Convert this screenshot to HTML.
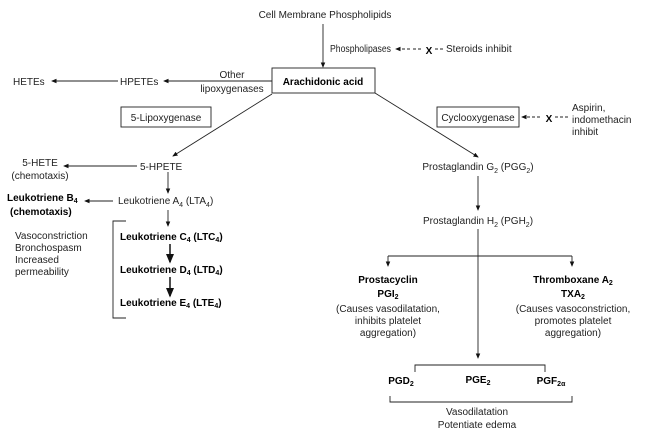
<!DOCTYPE html>
<html><head><style>
body{margin:0;background:#fff}
svg{display:block}
text{font-family:"Liberation Sans",sans-serif;font-size:10px;fill:#222}
.b{font-weight:bold;fill:#000}
</style></head><body>
<svg width="645" height="436" viewBox="0 0 645 436">
<defs><marker id="a" markerWidth="6" markerHeight="6" refX="5" refY="3" orient="auto"><path d="M0,0.5L6,3L0,5.5z" fill="#111"/></marker></defs>
<g stroke="#222" stroke-width="0.9" fill="none">
<line x1="323" y1="24" x2="323" y2="67" marker-end="url(#a)"/>
<line x1="410" y1="49" x2="396" y2="49" stroke-dasharray="3,2" marker-end="url(#a)"/>
<line x1="413" y1="49" x2="423" y2="49" stroke-dasharray="3,2"/>
<line x1="435" y1="49" x2="444" y2="49" stroke-dasharray="3,2"/>
<rect x="272" y="68" width="103" height="25"/>
<line x1="272" y1="81" x2="164" y2="81" marker-end="url(#a)"/>
<line x1="118" y1="81" x2="52" y2="81" marker-end="url(#a)"/>
<rect x="121" y="107" width="90" height="20"/>
<line x1="272" y1="94" x2="173" y2="156" marker-end="url(#a)"/>
<line x1="137" y1="166" x2="64" y2="166" marker-end="url(#a)"/>
<line x1="168" y1="172" x2="168" y2="193" marker-end="url(#a)"/>
<line x1="113" y1="201" x2="85" y2="201" marker-end="url(#a)"/>
<line x1="168" y1="210" x2="168" y2="226" marker-end="url(#a)"/>
<polyline points="126,221 113,221 113,318 126,318"/>
<line x1="170" y1="244" x2="170" y2="262" stroke-width="1.6" marker-end="url(#a)"/>
<line x1="170" y1="277" x2="170" y2="296" stroke-width="1.6" marker-end="url(#a)"/>
<line x1="375" y1="93" x2="478" y2="157" marker-end="url(#a)"/>
<rect x="437" y="107" width="82" height="20"/>
<line x1="540" y1="117" x2="522" y2="117" stroke-dasharray="3,2" marker-end="url(#a)"/>
<line x1="555" y1="117" x2="569" y2="117" stroke-dasharray="3,2"/>
<line x1="478" y1="176" x2="478" y2="210" marker-end="url(#a)"/>
<line x1="478" y1="229" x2="478" y2="358" marker-end="url(#a)"/>
<line x1="388" y1="256" x2="572" y2="256"/>
<line x1="388" y1="256" x2="388" y2="266" marker-end="url(#a)"/>
<line x1="572" y1="256" x2="572" y2="266" marker-end="url(#a)"/>
<polyline points="415,372 415,365 545,365 545,372"/>
<polyline points="390,396 390,402 572,402 572,396"/>
</g>
<text x="325" y="18" text-anchor="middle" font-size="11">Cell Membrane Phospholipids</text>
<text x="330" y="52" textLength="61" lengthAdjust="spacingAndGlyphs">Phospholipases</text>
<text x="429" y="54" text-anchor="middle" class="b" font-size="13">X</text>
<text x="446" y="52">Steroids inhibit</text>
<text x="323" y="85" text-anchor="middle" class="b" font-size="11">Arachidonic acid</text>
<text x="232" y="78" text-anchor="middle">Other</text>
<text x="232" y="92" text-anchor="middle">lipoxygenases</text>
<text x="120" y="85">HPETEs</text>
<text x="13" y="85">HETEs</text>
<text x="166" y="121" text-anchor="middle">5-Lipoxygenase</text>
<text x="140" y="170">5-HPETE</text>
<text x="40" y="166" text-anchor="middle">5-HETE</text>
<text x="40" y="179" text-anchor="middle">(chemotaxis)</text>
<text x="118" y="204">Leukotriene A<tspan font-size="7" dy="3">4</tspan><tspan dy="-3"> (LTA</tspan><tspan font-size="7" dy="3">4</tspan><tspan dy="-3">)</tspan></text>
<text x="7" y="201" class="b">Leukotriene B<tspan font-size="7" dy="2">4</tspan></text>
<text x="10" y="215" class="b">(chemotaxis)</text>
<text x="15" y="239">Vasoconstriction</text>
<text x="15" y="251">Bronchospasm</text>
<text x="15" y="263">Increased</text>
<text x="15" y="275">permeability</text>
<text x="120" y="240" class="b">Leukotriene C<tspan font-size="7" dy="2">4</tspan><tspan dy="-2"> (LTC</tspan><tspan font-size="7" dy="2">4</tspan><tspan dy="-2">)</tspan></text>
<text x="120" y="273" class="b">Leukotriene D<tspan font-size="7" dy="2">4</tspan><tspan dy="-2"> (LTD</tspan><tspan font-size="7" dy="2">4</tspan><tspan dy="-2">)</tspan></text>
<text x="120" y="306" class="b">Leukotriene E<tspan font-size="7" dy="2">4</tspan><tspan dy="-2"> (LTE</tspan><tspan font-size="7" dy="2">4</tspan><tspan dy="-2">)</tspan></text>
<text x="478" y="121" text-anchor="middle">Cyclooxygenase</text>
<text x="549" y="122" text-anchor="middle" class="b" font-size="13">X</text>
<text x="572" y="111">Aspirin,</text>
<text x="572" y="123">indomethacin</text>
<text x="572" y="135">inhibit</text>
<text x="478" y="170" text-anchor="middle">Prostaglandin G<tspan font-size="7" dy="3">2</tspan><tspan dy="-3"> (PGG</tspan><tspan font-size="7" dy="3">2</tspan><tspan dy="-3">)</tspan></text>
<text x="478" y="224" text-anchor="middle">Prostaglandin H<tspan font-size="7" dy="3">2</tspan><tspan dy="-3"> (PGH</tspan><tspan font-size="7" dy="3">2</tspan><tspan dy="-3">)</tspan></text>
<text x="388" y="283" text-anchor="middle" class="b">Prostacyclin</text>
<text x="388" y="297" text-anchor="middle" class="b">PGI<tspan font-size="7" dy="2">2</tspan></text>
<text x="388" y="312" text-anchor="middle">(Causes vasodilatation,</text>
<text x="388" y="324" text-anchor="middle">inhibits platelet</text>
<text x="388" y="336" text-anchor="middle">aggregation)</text>
<text x="573" y="283" text-anchor="middle" class="b">Thromboxane A<tspan font-size="7" dy="2">2</tspan></text>
<text x="573" y="297" text-anchor="middle" class="b">TXA<tspan font-size="7" dy="2">2</tspan></text>
<text x="573" y="312" text-anchor="middle">(Causes vasoconstriction,</text>
<text x="573" y="324" text-anchor="middle">promotes platelet</text>
<text x="573" y="336" text-anchor="middle">aggregation)</text>
<text x="401" y="384" text-anchor="middle" class="b">PGD<tspan font-size="7" dy="2">2</tspan></text>
<text x="478" y="383" text-anchor="middle" class="b">PGE<tspan font-size="7" dy="2">2</tspan></text>
<text x="551" y="384" text-anchor="middle" class="b">PGF<tspan font-size="7" dy="2">2α</tspan></text>
<text x="477" y="415" text-anchor="middle">Vasodilatation</text>
<text x="477" y="428" text-anchor="middle">Potentiate edema</text>
</svg>
</body></html>
